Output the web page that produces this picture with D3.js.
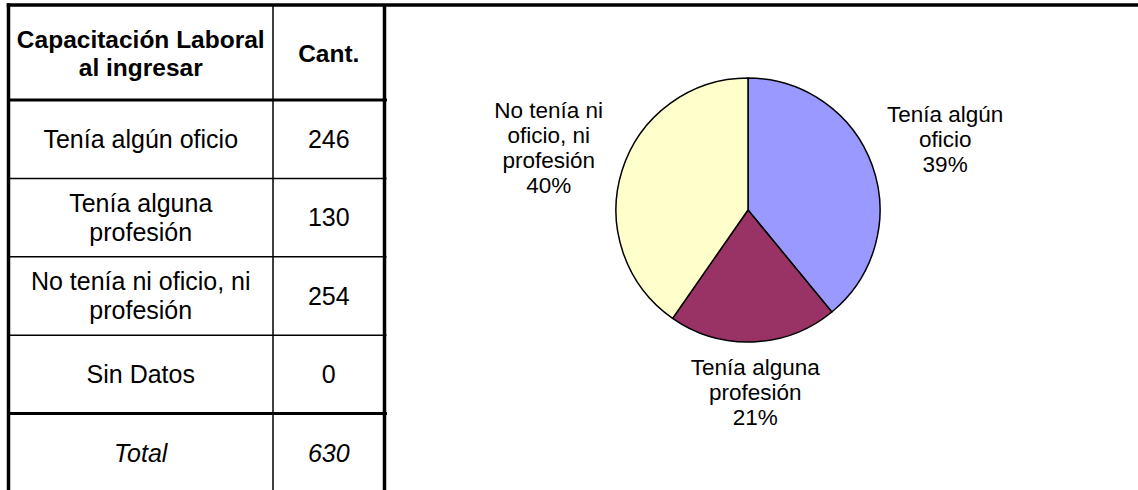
<!DOCTYPE html>
<html>
<head>
<meta charset="utf-8">
<script src="https://cdn.jsdelivr.net/npm/d3@7/dist/d3.min.js"></script>
<style>
  html, body { margin: 0; padding: 0; background: #ffffff; }
  svg { display: block; font-family: Arial, "Liberation Sans", sans-serif; }
</style>
</head>
<body>
<svg id="chart" width="1138" height="490"></svg>
<script>
// ---- data ----
const headerLabels = ["Capacitación Laboral al ingresar", "Cant."];
const categories = ["Tenía algún oficio", "Tenía alguna profesión", "No tenía ni oficio, ni profesión", "Sin Datos"];
const counts = [246, 130, 254, 0];
const totalLabel = "Total";
const sliceColors = ["#9999FF", "#993366", "#FFFFCC", "#00CCFF"];

// ---- setup ----
const svg = d3.select("#chart");
const W = 1138, H = 490;

const tableLeft = 8.5, colSplit = 273, tableRight = 384.5;
const headerTop = 5, headerBottom = 100, tableBottom = 492;
const bodyFont = 25, headFont = 24.5, lineK = 1.15;

const rowKeys = categories.map((c, i) => i).concat(["total"]);
const yRow = d3.scaleBand().domain(rowKeys).range([headerBottom, tableBottom]);

function wrapLines(text, maxW, font, weight) {
  const tmp = svg.append("text").attr("font-size", font).attr("font-weight", weight || "normal");
  const words = text.split(" ");
  const lines = [];
  let cur = "";
  words.forEach(w => {
    const test = cur ? cur + " " + w : w;
    tmp.text(test);
    if (tmp.node().getComputedTextLength() > maxW && cur) { lines.push(cur); cur = w; }
    else cur = test;
  });
  if (cur) lines.push(cur);
  tmp.remove();
  return lines;
}

function multiText(g, lines, cx, cy, font, lh, opts) {
  opts = opts || {};
  const t = g.append("text")
    .attr("text-anchor", "middle")
    .attr("font-size", font)
    .attr("font-weight", opts.weight || "normal")
    .attr("font-style", opts.style || "normal")
    .attr("fill", "#000");
  const y0 = cy - (lines.length - 1) * lh / 2 + font * 0.35;
  lines.forEach((ln, i) => {
    t.append("tspan").attr("x", cx).attr("y", y0 + i * lh).text(ln);
  });
  return t;
}

const gT = svg.append("g");
const c1 = (tableLeft + colSplit) / 2, c2 = (colSplit + tableRight) / 2;

// header
multiText(gT, wrapLines(headerLabels[0], 252, headFont, "bold"), c1, (headerTop + headerBottom) / 2 + 1, headFont, headFont * lineK, {weight: "bold"});
multiText(gT, [headerLabels[1]], c2, (headerTop + headerBottom) / 2 + 1, headFont, headFont * lineK, {weight: "bold"});

// body rows
categories.forEach((c, i) => {
  const cy = yRow(i) + yRow.bandwidth() / 2;
  multiText(gT, wrapLines(c, 240, bodyFont), c1, cy, bodyFont, bodyFont * lineK);
  multiText(gT, [String(counts[i])], c2, cy, bodyFont, bodyFont * lineK);
});
const totalY = yRow("total") + yRow.bandwidth() / 2;
multiText(gT, [totalLabel], c1, totalY, bodyFont, bodyFont * lineK, {style: "italic"});
multiText(gT, [String(d3.sum(counts))], c2, totalY, bodyFont, bodyFont * lineK, {style: "italic"});

// grid lines
const thin = 1.5, thick = 3.5;
[1, 2, 3].forEach(i => {
  gT.append("line").attr("x1", tableLeft).attr("x2", tableRight + 2)
    .attr("y1", yRow(i)).attr("y2", yRow(i)).attr("stroke", "#000").attr("stroke-width", thin);
});
[headerBottom, yRow("total")].forEach(y => {
  gT.append("line").attr("x1", tableLeft).attr("x2", tableRight + 2.5)
    .attr("y1", y).attr("y2", y).attr("stroke", "#000").attr("stroke-width", 3);
});
gT.append("line").attr("x1", colSplit).attr("x2", colSplit).attr("y1", headerTop).attr("y2", H)
  .attr("stroke", "#000").attr("stroke-width", thin);
gT.append("line").attr("x1", tableRight).attr("x2", tableRight).attr("y1", headerTop).attr("y2", H)
  .attr("stroke", "#000").attr("stroke-width", thick);
gT.append("line").attr("x1", tableLeft).attr("x2", tableLeft).attr("y1", headerTop - 1.75).attr("y2", H)
  .attr("stroke", "#000").attr("stroke-width", thick);
gT.append("line").attr("x1", tableLeft - 1.75).attr("x2", W).attr("y1", headerTop).attr("y2", headerTop)
  .attr("stroke", "#000").attr("stroke-width", thick);

// ---- pie ----
const cx = 748, cy = 210, R = 132;
const pie = d3.pie().sort(null).value(d => d);
const arcs = pie(counts);
const arc = d3.arc().innerRadius(0).outerRadius(R);
const gP = svg.append("g").attr("transform", `translate(${cx},${cy})`);
gP.selectAll("path").data(arcs.filter(a => a.value > 0)).join("path")
  .attr("d", arc)
  .attr("fill", d => sliceColors[d.index])
  .attr("stroke", "#000").attr("stroke-width", 1.5).attr("stroke-linejoin", "round");

const total = d3.sum(counts);
const labFont = 22.5, labLH = 25, gap = 10;
arcs.forEach(a => {
  if (a.value <= 0) return;
  const mid = (a.startAngle + a.endAngle) / 2;
  const dx = Math.sin(mid), dy = -Math.cos(mid);
  const pct = Math.round(a.value / total * 100) + "%";
  const lines = wrapLines(categories[a.index], 138, labFont).concat([pct]);
  const tmp = svg.append("text").attr("font-size", labFont);
  let bw = 0;
  lines.forEach(l => { tmp.text(l); bw = Math.max(bw, tmp.node().getComputedTextLength()); });
  tmp.remove();
  const bh = lines.length * labLH;
  // place box centre on the mid-angle ray so that the box clears the pie by `gap`
  const d = R + gap + Math.abs(dx) * bw / 2 + Math.abs(dy) * bh / 2;
  multiText(gP, lines, dx * d, dy * d, labFont, labLH);
});
</script>
</body>
</html>
